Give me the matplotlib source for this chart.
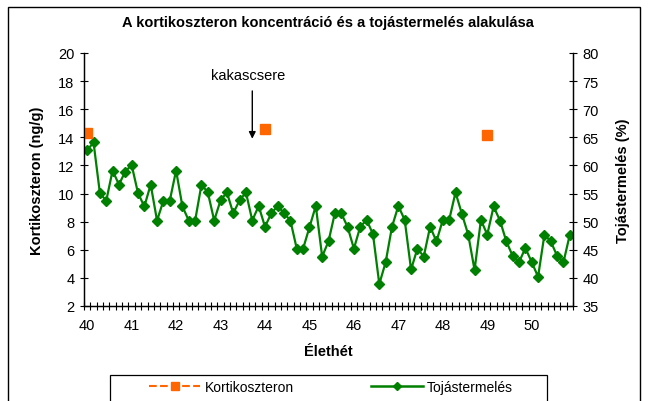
import numpy as np
import matplotlib
matplotlib.use("Agg")
import matplotlib.pyplot as plt
from matplotlib.patches import Rectangle
from matplotlib.lines import Line2D

plt.rcParams['font.family'] = ['Liberation Sans', 'DejaVu Sans']

# --- data ---
week_labels = ['40', '41', '42', '43', '44', '45', '46', '47', '48', '49', '50']
# egg production (%) per day, weeks 40 .. 50 6/7
egg_production = [62.7, 64.1, 55.1, 53.7, 59.1, 56.6, 58.9, 60.1, 55.1, 52.7,
                  56.6, 50.2, 53.7, 53.7, 59.1, 52.7, 50.2, 50.2, 56.6, 55.2,
                  50.2, 53.8, 55.2, 51.5, 53.8, 55.2, 50.2, 52.8, 49.1, 51.5,
                  52.8, 51.5, 50.2, 45.2, 45.2, 49.0, 52.8, 43.8, 46.5, 51.5,
                  51.5, 49.1, 45.2, 49.1, 50.3, 47.8, 38.9, 42.8, 49.1, 52.8,
                  50.3, 41.5, 45.2, 43.8, 49.1, 46.5, 50.3, 50.3, 55.2, 51.4,
                  47.7, 41.4, 50.3, 47.7, 52.7, 50.2, 46.5, 43.9, 42.8, 45.3,
                  42.8, 40.2, 47.7, 46.5, 43.9, 42.8, 47.7]
# corticosterone (ng/g) measured on days 0, 28, 63
cort_days = [0, 28, 63]
cort_values = [14.3, 14.6, 14.2]
rooster_change_day = 26

n = len(egg_production)
x = np.arange(n)
cort = np.full(n, np.nan)
for d, v in zip(cort_days, cort_values):
    cort[d] = v

W, H = 648, 402
fig = plt.figure(figsize=(W / 100, H / 100), dpi=100)

def fx(px):
    return px / W

def fy(py):
    return 1 - py / H

# outer chart border
fig.patches.append(Rectangle((fx(8), fy(420)), fx(640) - fx(8), fy(8) - fy(420),
                             transform=fig.transFigure, fill=False,
                             edgecolor='black', linewidth=1.0))

ax = fig.add_axes([fx(84), fy(307), fx(573) - fx(84), fy(54) - fy(307)])
ax2 = ax.twinx()

ax.set_zorder(ax2.get_zorder() + 1)
ax.patch.set_visible(False)

ax2.plot(x, egg_production, color='#008000', linewidth=1.6, marker='D',
         markersize=5.5, markeredgecolor='#008000', markerfacecolor='#008000')
ax.plot(x, cort, color='#FF6600', linestyle='--', marker='s', markersize=7,
        markeredgecolor='#FF6600', markerfacecolor='#FF6600', linewidth=1.5)

ax.set_xlim(-0.5, n - 0.5)
ax.set_ylim(2, 20)
ax2.set_ylim(35, 80)

ax.set_yticks(np.arange(2, 21, 2))
ax2.set_yticks(np.arange(35, 81, 5))

ax.set_xticks(np.arange(0, n, 7))
ax.set_xticklabels(week_labels)
ax.set_xticks(np.arange(-0.5, n, 1), minor=True)
ax.tick_params(axis='x', which='major', length=0, pad=9, labelsize=10.5)
ax.tick_params(axis='x', which='minor', direction='inout', length=6, width=0.8)
ax.tick_params(axis='y', direction='inout', length=6, width=0.8, labelsize=10.5, pad=4)
ax2.tick_params(axis='y', direction='inout', length=6, width=0.8, labelsize=10.5, pad=4)

for a in (ax, ax2):
    a.spines['top'].set_visible(False)
    for s in ('left', 'right', 'bottom'):
        a.spines[s].set_linewidth(0.9)

ax.set_xlabel('Élethét', fontsize=10.5, fontweight='bold', labelpad=8)
ax.set_ylabel('Kortikoszteron (ng/g)', fontsize=10.5, fontweight='bold', labelpad=10)
ax2.set_ylabel('Tojástermelés (%)', fontsize=10.5, fontweight='bold', labelpad=12)

fig.text(fx(328), fy(23), 'A kortikoszteron koncentráció és a tojástermelés alakulása',
         ha='center', va='center', fontsize=10.5, fontweight='bold')

# annotation: text and a vertical arrow
ax.text(rooster_change_day - 0.7, 18.4, 'kakascsere', ha='center', va='center',
        fontsize=10.5)
ax.annotate('', xy=(rooster_change_day, 13.9), xytext=(rooster_change_day, 17.3),
            arrowprops=dict(arrowstyle='-|>', color='black', lw=1.0,
                            shrinkA=0, shrinkB=0, mutation_scale=10))

# legend
fig.patches.append(Rectangle((fx(110), fy(420)), fx(547) - fx(110), fy(376) - fy(420),
                             transform=fig.transFigure, fill=False,
                             edgecolor='black', linewidth=0.9))
handles = [Line2D([], [], color='#FF6600', linestyle='--', marker='s', markersize=6,
                  linewidth=1.5),
           Line2D([], [], color='#008000', marker='D', markersize=4.5, linewidth=1.8)]
fig.legend(handles, ['Kortikoszteron', 'Tojástermelés'], loc='center',
           bbox_to_anchor=(fx(331), fy(388)), ncol=2, frameon=False,
           fontsize=10, handlelength=3.7, handletextpad=0.3, columnspacing=5.6)

fig.savefig('out.png', dpi=100)
